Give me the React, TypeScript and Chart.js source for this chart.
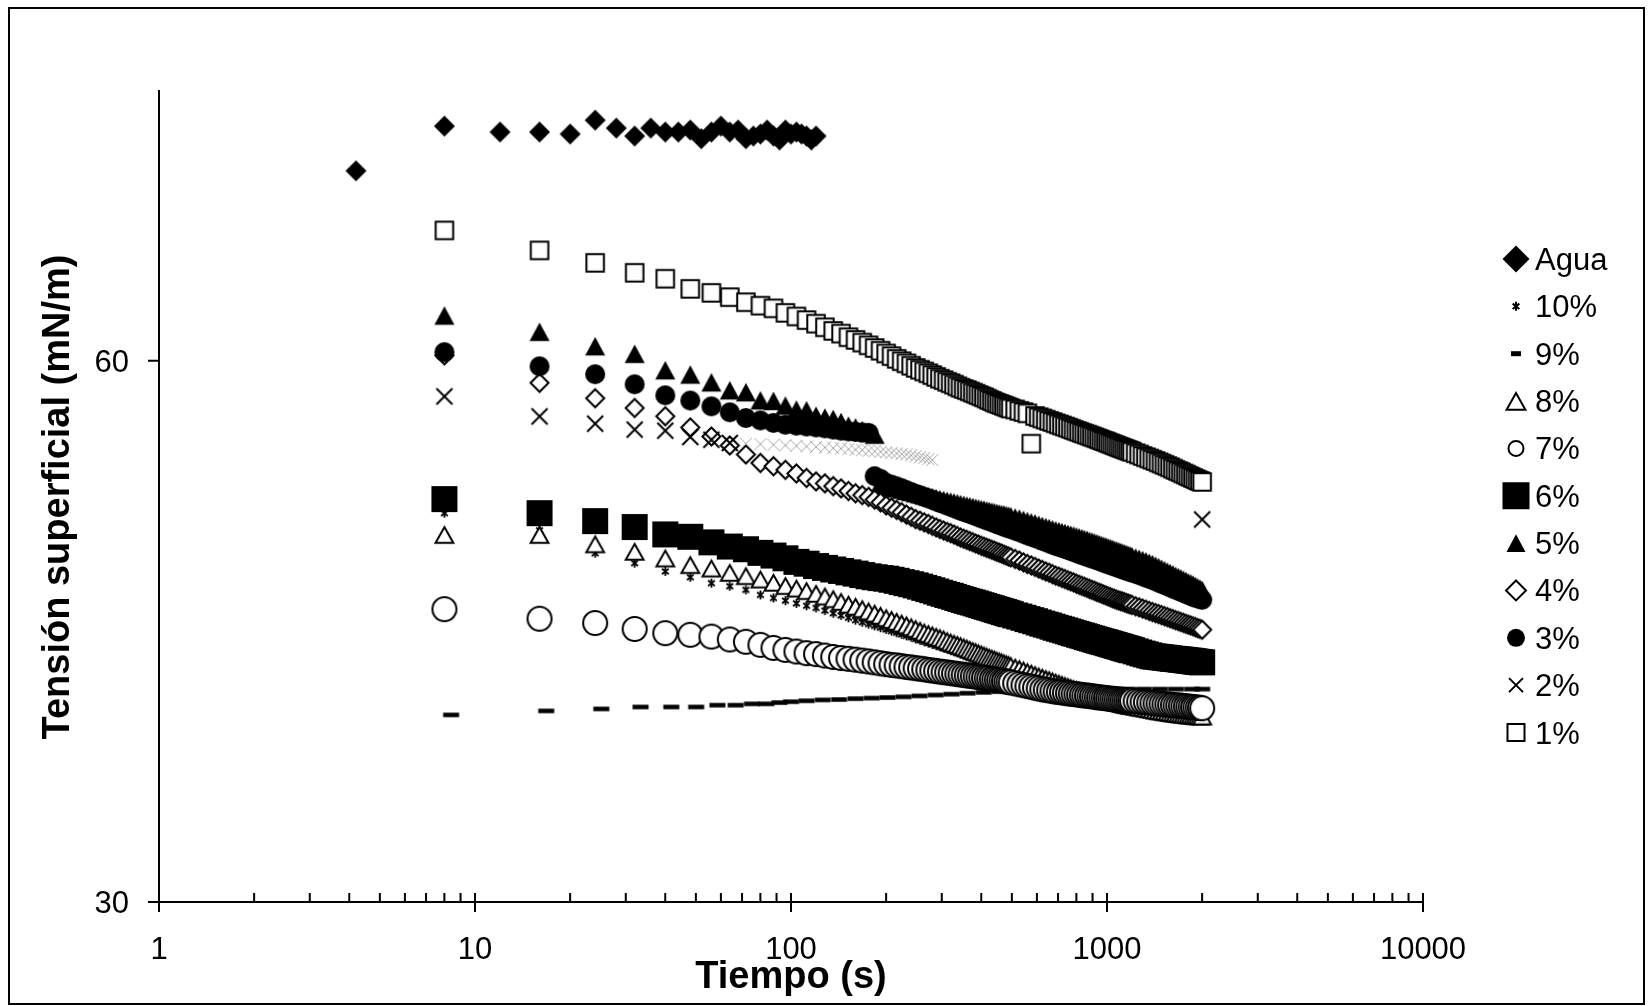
import React, { useEffect, useRef } from "react";
import { Chart, registerables } from "chart.js";

Chart.register(...registerables);

// ---------- DATA ----------
const tiempoAgua = [4.2, 8, 12, 16, 20, 24, 28, 32, 36, 40, 44, 48, 52, 56, 60, 64, 68, 72, 76, 80, 84, 88, 92, 96, 100, 104, 108, 112, 116, 120];
const agua = [70.52, 73.0, 72.67, 72.67, 72.56, 73.33, 72.89, 72.45, 72.89, 72.67, 72.67, 72.78, 72.3, 72.67, 73.0, 72.67, 72.78, 72.3, 72.45, 72.56, 72.78, 72.45, 72.23, 72.78, 72.56, 72.67, 72.56, 72.45, 72.23, 72.45];

const tiempo = [
  8, 16, 24, 32, 40, 48, 56, 64, 72, 80,
  88, 96, 104, 112, 120, 128, 136, 144, 152, 160,
  168, 176, 184, 192, 200, 208, 216, 224, 232, 240,
  248, 256, 264, 272, 280, 288, 296, 304, 312, 320,
  328, 336, 344, 352, 360, 368, 376, 384, 392, 400,
  408, 416, 424, 432, 440, 448, 456, 464, 472, 480,
  488, 496,
  512, 528, 544, 560, 576, 592, 608, 624, 640, 656,
  672, 688, 704, 720, 736, 752, 768, 784, 800, 816,
  832, 848, 864, 880, 896, 912, 928, 944, 960, 976,
  992, 1008, 1024, 1040, 1056, 1072, 1088, 1104, 1120, 1136,
  1152, 1168, 1184, 1200,
  1232, 1264, 1296, 1328, 1360, 1392, 1424, 1456, 1488, 1520,
  1552, 1584, 1616, 1648, 1680, 1712, 1744, 1776, 1808, 1840,
  1872, 1904, 1936, 1968, 2000];

const tiempo2 = [8, 16, 24, 32, 40, 48, 56, 64, 72, 80,
  88, 96, 104, 112, 120, 128, 136, 144, 152, 160,
  168, 176, 184, 192, 200, 208, 216, 224, 232, 240,
  248, 256, 264, 272, 280, 2000];

const tiempo9 = [8.4, 16.8, 25.1, 33.4, 41.8, 50.1, 58.5, 66.8, 75.2, 83.5,
  91.9, 100, 112, 126, 142, 160, 180, 202, 227, 255,
  287, 322, 362, 407, 457, 514, 578, 650, 730, 820,
  922, 1036, 1165, 1309, 1471, 1653, 1858, 2000];

const p10 = [51.55, 50.6, 49.33, 48.78, 48.32, 48.0, 47.67, 47.5, 47.3, 47.02,
  46.85, 46.7, 46.55, 46.42, 46.3, 46.15, 46.0, 45.88, 45.75, 45.62,
  45.5, 45.4, 45.3, 45.2, 45.1,
  45.01, 44.92, 44.83, 44.75, 44.67, 44.58, 44.5, 44.42, 44.35, 44.28,
  44.21, 44.15, 44.08, 44.02, 43.95, 43.9, 43.84, 43.78, 43.72, 43.66,
  43.6, 43.55, 43.5, 43.45, 43.4, 43.35, 43.3, 43.25, 43.2, 43.15,
  43.11, 43.07, 43.03, 42.98, 42.94, 42.9, 42.86,
  42.78, 42.7, 42.62, 42.55, 42.48, 42.41, 42.34, 42.27, 42.2, 42.14,
  42.08, 42.02, 41.96, 41.9, 41.84, 41.79, 41.74, 41.69, 41.64, 41.59,
  41.54, 41.5, 41.45, 41.41, 41.37, 41.33, 41.29, 41.25, 41.21, 41.18,
  41.14, 41.11, 41.07, 41.04, 41.01, 40.98, 40.95, 40.92, 40.89, 40.86,
  40.83, 40.81, 40.78, 40.76,
  40.72, 40.67, 40.63, 40.59, 40.55, 40.51, 40.47, 40.43, 40.4, 40.36,
  40.33, 40.3, 40.27, 40.24, 40.21, 40.19, 40.17, 40.15, 40.13, 40.11,
  40.09, 40.08, 40.07, 40.06, 40.05];

const p9 = [40.37, 40.59, 40.7, 40.81, 40.81, 40.81, 40.91, 40.91, 40.98, 40.98,
  41.05, 41.1, 41.15, 41.2, 41.22, 41.27, 41.3, 41.33, 41.37, 41.42,
  41.47, 41.52, 41.57, 41.62, 41.66, 41.7, 41.72, 41.74, 41.76, 41.77,
  41.78, 41.79, 41.8, 41.8, 41.8, 41.8, 41.8, 41.8];

const p8 = [50.36, 50.36, 49.84, 49.43, 49.06, 48.69, 48.5, 48.26, 48.08, 47.89,
  47.71, 47.53, 47.39, 47.25, 47.1, 46.95, 46.8, 46.65, 46.5, 46.38,
  46.25, 46.12, 46.0, 45.88, 45.75,
  45.65, 45.55, 45.45, 45.35, 45.25, 45.15, 45.05, 44.95, 44.87, 44.8,
  44.72, 44.65, 44.57, 44.48, 44.4, 44.33, 44.27, 44.2, 44.13, 44.07,
  44.0, 43.93, 43.87, 43.8, 43.74, 43.68, 43.62, 43.56, 43.51, 43.45,
  43.4, 43.35, 43.3, 43.25, 43.2, 43.15, 43.1,
  43.01, 42.93, 42.85, 42.76, 42.68, 42.6, 42.52, 42.45, 42.38, 42.32,
  42.25, 42.18, 42.12, 42.06, 42.0, 41.94, 41.88, 41.82, 41.77, 41.72,
  41.67, 41.62, 41.57, 41.52, 41.48, 41.44, 41.39, 41.35, 41.32, 41.28,
  41.25, 41.21, 41.18, 41.15, 41.12, 41.09, 41.06, 41.03, 41.0, 40.97,
  40.95, 40.93, 40.9, 40.88,
  40.84, 40.8, 40.77, 40.74, 40.7, 40.67, 40.63, 40.6, 40.58, 40.55,
  40.53, 40.5, 40.48, 40.46, 40.44, 40.42, 40.4, 40.39, 40.37, 40.36,
  40.34, 40.33, 40.32, 40.31, 40.3];

const p7 = [46.23, 45.7, 45.46, 45.13, 44.9, 44.81, 44.71, 44.55, 44.42, 44.25,
  44.08, 43.97, 43.88, 43.79, 43.74, 43.66, 43.58, 43.52, 43.48, 43.43,
  43.38, 43.33, 43.28, 43.23, 43.18,
  43.14, 43.11, 43.07, 43.03, 43.0, 42.96, 42.93, 42.9, 42.86, 42.83,
  42.8, 42.77, 42.74, 42.72, 42.69, 42.66, 42.64, 42.61, 42.59, 42.56,
  42.54, 42.52, 42.5, 42.47, 42.45, 42.43, 42.41, 42.39, 42.36, 42.34,
  42.32, 42.3, 42.27, 42.25, 42.22, 42.2, 42.17,
  42.12, 42.07, 42.02, 41.97, 41.93, 41.88, 41.84, 41.79, 41.76, 41.73,
  41.69, 41.66, 41.64, 41.62, 41.59, 41.57, 41.55, 41.53, 41.51, 41.49,
  41.47, 41.45, 41.44, 41.42, 41.4, 41.38, 41.36, 41.34, 41.33, 41.31,
  41.3, 41.28, 41.27, 41.26, 41.24, 41.23, 41.22, 41.21, 41.2, 41.19,
  41.18, 41.17, 41.16, 41.15,
  41.13, 41.11, 41.09, 41.07, 41.05, 41.03, 41.01, 41.0, 40.98, 40.96,
  40.95, 40.93, 40.92, 40.9, 40.89, 40.88, 40.86, 40.85, 40.83, 40.82,
  40.8, 40.79, 40.77, 40.76, 40.74];

const p6 = [52.33, 51.55, 51.11, 50.78, 50.37, 50.24, 49.93, 49.7, 49.55, 49.35,
  49.2, 49.05, 48.85, 48.75, 48.62, 48.52, 48.43, 48.35, 48.27, 48.2,
  48.12, 48.05, 48.0, 47.95, 47.92,
  47.86, 47.8, 47.73, 47.67, 47.61, 47.55, 47.48, 47.41, 47.34, 47.28,
  47.21, 47.14, 47.08, 47.02, 46.97, 46.91, 46.85, 46.79, 46.74, 46.69,
  46.64, 46.6, 46.55, 46.5, 46.45, 46.41, 46.36, 46.32, 46.28, 46.23,
  46.19, 46.15, 46.11, 46.07, 46.03, 45.99, 45.95,
  45.88, 45.82, 45.75, 45.68, 45.62, 45.56, 45.49, 45.43, 45.37, 45.32,
  45.26, 45.2, 45.15, 45.1, 45.05, 45.0, 44.95, 44.9, 44.86, 44.81,
  44.77, 44.73, 44.68, 44.64, 44.6, 44.56, 44.52, 44.48, 44.45, 44.41,
  44.38, 44.34, 44.31, 44.27, 44.24, 44.2, 44.17, 44.14, 44.1, 44.07,
  44.04, 44.01, 43.98, 43.95,
  43.89, 43.83, 43.77, 43.72, 43.67, 43.62, 43.6, 43.58, 43.56, 43.54,
  43.52, 43.5, 43.48, 43.47, 43.45, 43.43, 43.42, 43.4, 43.38, 43.37,
  43.35, 43.33, 43.31, 43.3, 43.28];

const p5 = [62.5, 61.6, 60.8, 60.38, 59.47, 59.23, 58.8, 58.36, 58.25, 57.8,
  57.77, 57.51, 57.29, 57.25, 56.95, 56.85, 56.77, 56.6, 56.4, 56.3,
  56.15, 56.0, 55.9, 53.2, 53.05,
  52.98, 52.92, 52.85, 52.78, 52.72, 52.65, 52.6, 52.54, 52.49, 52.43,
  52.38, 52.32, 52.28, 52.23, 52.19, 52.14, 52.1, 52.05, 52.01, 51.97,
  51.93, 51.89, 51.85, 51.81, 51.77, 51.74, 51.7, 51.67, 51.63, 51.6,
  51.56, 51.53, 51.5, 51.47, 51.44, 51.41, 51.38,
  51.31, 51.25, 51.18, 51.11, 51.04, 50.98, 50.91, 50.84, 50.78, 50.72,
  50.66, 50.6, 50.55, 50.5, 50.45, 50.4, 50.35, 50.31, 50.26, 50.21,
  50.16, 50.12, 50.07, 50.02, 49.97, 49.93, 49.88, 49.83, 49.79, 49.74,
  49.7, 49.65, 49.61, 49.57, 49.52, 49.48, 49.44, 49.4, 49.36, 49.32,
  49.28, 49.24, 49.2, 49.16,
  49.09, 49.02, 48.95, 48.88, 48.8, 48.73, 48.64, 48.56, 48.47, 48.39,
  48.31, 48.23, 48.16, 48.08, 48.01, 47.94, 47.86, 47.79, 47.72, 47.66,
  47.59, 47.52, 47.44, 47.37, 47.3];

const p4 = [60.3, 58.77, 57.92, 57.38, 56.92, 56.3, 55.8, 55.3, 54.8, 54.33,
  54.15, 53.95, 53.75, 53.5, 53.31, 53.2, 53.05, 52.92, 52.78, 52.65,
  52.55, 52.45, 52.3, 52.15, 51.98,
  51.85, 51.73, 51.6, 51.47, 51.35, 51.22, 51.13, 51.04, 50.95, 50.85,
  50.76, 50.67, 50.59, 50.51, 50.44, 50.36, 50.28, 50.2, 50.13, 50.07,
  50.0, 49.94, 49.87, 49.81, 49.74, 49.69, 49.63, 49.58, 49.52, 49.47,
  49.41, 49.36, 49.31, 49.25, 49.2, 49.15, 49.1,
  49.01, 48.92, 48.82, 48.73, 48.65, 48.57, 48.48, 48.4, 48.32, 48.25,
  48.17, 48.09, 48.03, 47.96, 47.9, 47.83, 47.77, 47.71, 47.64, 47.58,
  47.52, 47.47, 47.41, 47.35, 47.3, 47.25, 47.19, 47.14, 47.09, 47.04,
  46.99, 46.94, 46.89, 46.84, 46.8, 46.75, 46.72, 46.68, 46.65, 46.61,
  46.57, 46.53, 46.5, 46.46,
  46.39, 46.33, 46.26, 46.2, 46.13, 46.07, 46.01, 45.96, 45.9, 45.84,
  45.79, 45.73, 45.68, 45.62, 45.57, 45.52, 45.47, 45.42, 45.37, 45.33,
  45.28, 45.23, 45.18, 45.14, 45.09];

const p3 = [60.47, 59.69, 59.25, 58.69, 58.08, 57.79, 57.47, 57.14, 56.82, 56.69,
  56.55, 56.45, 56.4, 56.35, 56.3, 56.25, 56.18, 56.12, 56.08, 56.05,
  56.02, 56.0, 53.6, 53.45, 53.23,
  53.13, 53.03, 52.93, 52.82, 52.72, 52.62, 52.54, 52.45, 52.37, 52.29,
  52.2, 52.12, 52.05, 51.98, 51.91, 51.83, 51.76, 51.69, 51.63, 51.57,
  51.51, 51.45, 51.39, 51.33, 51.27, 51.22, 51.16, 51.11, 51.06, 51.0,
  50.95, 50.9, 50.86, 50.81, 50.76, 50.72, 50.67,
  50.58, 50.5, 50.41, 50.32, 50.25, 50.17, 50.1, 50.02, 49.95, 49.88,
  49.81, 49.74, 49.68, 49.63, 49.57, 49.51, 49.45, 49.4, 49.34, 49.28,
  49.23, 49.19, 49.14, 49.09, 49.04, 49.0, 48.95, 48.9, 48.86, 48.81,
  48.77, 48.72, 48.68, 48.64, 48.6, 48.56, 48.52, 48.48, 48.44, 48.4,
  48.37, 48.33, 48.3, 48.26,
  48.19, 48.12, 48.05, 47.98, 47.92, 47.85, 47.78, 47.71, 47.64, 47.57,
  47.51, 47.44, 47.38, 47.32, 47.26, 47.2, 47.14, 47.08, 47.02, 46.97,
  46.91, 46.87, 46.83, 46.79, 46.75];

const p2 = [58.02, 56.91, 56.51, 56.18, 56.12, 55.77, 55.62, 55.44, 55.4, 55.37,
  55.34, 55.31, 55.28, 55.25, 55.22, 55.19, 55.16, 55.13, 55.1, 55.07,
  55.04, 55.01, 54.98, 54.95, 54.92, 54.89, 54.86, 54.83, 54.8, 54.75,
  54.7, 54.65, 54.6, 54.55, 54.5, 51.2];

const p1 = [67.22, 66.11, 65.42, 64.87, 64.54, 63.98, 63.76, 63.52, 63.24, 63.05,
  62.9, 62.65, 62.45, 62.25, 62.05, 61.85, 61.65, 61.5, 61.3, 61.15,
  61.0, 60.85, 60.7, 60.55, 60.4,
  60.25, 60.1, 59.97, 59.85, 59.72, 59.6, 59.5, 59.4, 59.3, 59.2,
  59.1, 59.0, 58.92, 58.83, 58.75, 58.67, 58.58, 58.5, 58.43, 58.37,
  58.3, 58.23, 58.17, 58.1, 58.03, 57.97, 57.9, 57.83, 57.77, 57.7,
  57.65, 57.6, 57.55, 57.5, 57.45, 57.4, 57.35,
  57.3, 57.22, 57.15, 57.08, 55.4, 56.94, 56.87, 56.8, 56.73, 56.66,
  56.6, 56.53, 56.47, 56.41, 56.35, 56.29, 56.23, 56.17, 56.11, 56.06,
  56.0, 55.95, 55.9, 55.85, 55.8, 55.75, 55.7, 55.65, 55.6, 55.55,
  55.51, 55.46, 55.41, 55.37, 55.32, 55.28, 55.23, 55.19, 55.15, 55.11,
  55.07, 55.03, 54.99, 54.95,
  54.87, 54.8, 54.72, 54.65, 54.58, 54.51, 54.44, 54.37, 54.3, 54.23,
  54.16, 54.09, 54.02, 53.95, 53.88, 53.82, 53.75, 53.69, 53.62, 53.56,
  53.5, 53.44, 53.38, 53.33, 53.28];

const etiquetas = ["Agua", "10%", "9%", "8%", "7%", "6%", "5%", "4%", "3%", "2%", "1%"];
const yTicks = [30, 60];
const xDecades = [1, 10, 100, 1000, 10000];
const xTitle = "Tiempo (s)";
const yTitle = "Tensión superficial (mN/m)";

// ---------- MARKERS ----------
function drawMarker(g: CanvasRenderingContext2D, kind: string, cx: number, cy: number, s: number, lw: number, color = "#000") {
  g.save();
  g.strokeStyle = color;
  g.fillStyle = color;
  g.lineWidth = lw;
  g.lineJoin = "miter";
  g.lineCap = "butt";
  const h = s / 2;
  if (kind === "diamondF") {
    g.beginPath();
    g.moveTo(cx, cy - h); g.lineTo(cx + h, cy); g.lineTo(cx, cy + h); g.lineTo(cx - h, cy);
    g.closePath(); g.fill();
  } else if (kind === "diamondO") {
    const r = h - lw * 0.75;
    g.beginPath();
    g.moveTo(cx, cy - r); g.lineTo(cx + r, cy); g.lineTo(cx, cy + r); g.lineTo(cx - r, cy);
    g.closePath(); g.fillStyle = "#fff"; g.fill(); g.stroke();
  } else if (kind === "squareF") {
    g.fillRect(cx - h, cy - h, s, s);
  } else if (kind === "squareO") {
    const r = h - lw / 2;
    g.fillStyle = "#fff";
    g.fillRect(cx - r, cy - r, 2 * r, 2 * r);
    g.strokeRect(cx - r, cy - r, 2 * r, 2 * r);
  } else if (kind === "circleF") {
    g.beginPath(); g.arc(cx, cy, h, 0, Math.PI * 2); g.fill();
  } else if (kind === "circleO") {
    g.beginPath(); g.arc(cx, cy, h - lw / 2, 0, Math.PI * 2);
    g.fillStyle = "#fff"; g.fill(); g.stroke();
  } else if (kind === "triangleF") {
    const H = s * 0.93;
    g.beginPath();
    g.moveTo(cx, cy - H / 2); g.lineTo(cx + h, cy + H / 2); g.lineTo(cx - h, cy + H / 2);
    g.closePath(); g.fill();
  } else if (kind === "triangleO") {
    const W = s - lw * 1.6;
    const H = s * 0.93 - lw * 1.6;
    g.beginPath();
    g.moveTo(cx, cy - H / 2 + lw * 0.3); g.lineTo(cx + W / 2, cy + H / 2); g.lineTo(cx - W / 2, cy + H / 2);
    g.closePath(); g.fillStyle = "#fff"; g.fill(); g.stroke();
  } else if (kind === "cross") {
    const r = (s - lw) / 2;
    g.beginPath();
    g.moveTo(cx - r, cy - r); g.lineTo(cx + r, cy + r);
    g.moveTo(cx + r, cy - r); g.lineTo(cx - r, cy + r);
    g.stroke();
  } else if (kind === "asterisk") {
    const r = h;
    g.beginPath();
    g.moveTo(cx, cy - r); g.lineTo(cx, cy + r);
    g.moveTo(cx - r * 0.75, cy - r * 0.6); g.lineTo(cx + r * 0.75, cy + r * 0.6);
    g.moveTo(cx + r * 0.75, cy - r * 0.6); g.lineTo(cx - r * 0.75, cy + r * 0.6);
    g.stroke();
  } else if (kind === "dash") {
    g.fillRect(cx - h, cy - lw / 2, s, lw);
  }
  g.restore();
}

function makeImage(kind: string, s: number, lw: number, color = "#000") {
  const c = document.createElement("canvas");
  const pad = 3;
  const w = Math.ceil(s + lw + pad * 2);
  const hh = kind === "dash" ? Math.ceil(lw + pad * 2) : w;
  c.width = w;
  c.height = hh;
  const g = c.getContext("2d") as CanvasRenderingContext2D;
  drawMarker(g, kind, w / 2, hh / 2, s, lw, color);
  return c;
}

const chartMarkers: [string, number, number][] = [
  ["diamondF", 21, 0],
  ["asterisk", 9, 1.8],
  ["dash", 16, 4.5],
  ["triangleO", 21, 2],
  ["circleO", 26, 2],
  ["squareF", 26, 0],
  ["triangleF", 20, 0],
  ["diamondO", 21, 2],
  ["circleF", 20, 0],
  ["cross", 18, 2],
  ["squareO", 19.5, 2],
];
const legendMarkers: [string, number, number][] = [
  ["diamondF", 27, 0],
  ["asterisk", 9, 2],
  ["dash", 10, 5],
  ["triangleO", 22, 2],
  ["circleO", 17, 2],
  ["squareF", 27, 0],
  ["triangleF", 19, 0],
  ["diamondO", 23, 2],
  ["circleF", 18, 0],
  ["cross", 16, 2],
  ["squareO", 19, 2],
];

const FONT = '"Liberation Sans", Arial, Helvetica, sans-serif';

const framePlugin = {
  id: "frame",
  beforeDraw(chart: any) {
    const ctx = chart.ctx as CanvasRenderingContext2D;
    ctx.save();
    ctx.fillStyle = "#fff";
    ctx.fillRect(0, 0, chart.width, chart.height);
    ctx.strokeStyle = "#000";
    ctx.lineWidth = 2;
    ctx.strokeRect(9, 8, 1635, 996);
    ctx.restore();
  },
  beforeDatasetsDraw(chart: any) {
    const ctx = chart.ctx as CanvasRenderingContext2D;
    const xs = chart.scales.x;
    const ys = chart.scales.y;
    const x0 = xs.getPixelForValue(1);
    const x1 = xs.getPixelForValue(10000);
    const y0 = ys.getPixelForValue(30);
    const yTop = ys.getPixelForValue(75);
    ctx.save();
    ctx.strokeStyle = "#000";
    ctx.fillStyle = "#000";
    ctx.lineWidth = 2;
    ctx.beginPath();
    ctx.moveTo(x0, yTop); ctx.lineTo(x0, y0);
    ctx.moveTo(x0 - 11, y0); ctx.lineTo(x1, y0);
    for (const v of yTicks) {
      const py = ys.getPixelForValue(v);
      ctx.moveTo(x0 - 11, py); ctx.lineTo(x0, py);
    }
    for (const d of xDecades) {
      const px = xs.getPixelForValue(d);
      ctx.moveTo(px, y0 - 9); ctx.lineTo(px, y0 + 10);
      if (d < 10000) {
        for (let m = 2; m <= 9; m++) {
          const pm = xs.getPixelForValue(m * d);
          ctx.moveTo(pm, y0 - 9); ctx.lineTo(pm, y0);
        }
      }
    }
    ctx.stroke();
    ctx.font = `31px ${FONT}`;
    ctx.textAlign = "right";
    ctx.textBaseline = "alphabetic";
    for (const v of yTicks) {
      const py = ys.getPixelForValue(v);
      ctx.fillText(String(v), x0 - 30, py + 11);
    }
    ctx.textAlign = "center";
    for (const d of xDecades) {
      ctx.fillText(String(d), xs.getPixelForValue(d), y0 + 57);
    }
    ctx.font = `bold 38px ${FONT}`;
    ctx.fillText(xTitle, (x0 + x1) / 2, 988);
    ctx.save();
    ctx.translate(69, 497);
    ctx.rotate(-Math.PI / 2);
    ctx.fillText(yTitle, 0, 0);
    ctx.restore();
    ctx.restore();
  },
  afterDraw(chart: any) {
    const ctx = chart.ctx as CanvasRenderingContext2D;
    ctx.save();
    ctx.font = `31px ${FONT}`;
    ctx.textAlign = "left";
    ctx.textBaseline = "alphabetic";
    etiquetas.forEach((lab, i) => {
      const cy = 259 + 47.35 * i;
      const [k, s, lw] = legendMarkers[i];
      drawMarker(ctx, k, 1516, cy, s, lw);
      ctx.fillStyle = "#000";
      ctx.fillText(lab, 1535, cy + 11);
    });
    ctx.restore();
  },
};

export default function App() {
  const ref = useRef<HTMLCanvasElement>(null);
  useEffect(() => {
    const canvas = ref.current as HTMLCanvasElement;
    const imgs = chartMarkers.map(([k, s, lw]) => makeImage(k, s, lw));
    const faint = makeImage("cross", 13, 1, "#a8a8a8");
    const mk = (t: number[], v: (number | null)[]) =>
      t.map((x, i) => ({ x, y: v[i] })).filter((p) => p.y !== null && p.y !== undefined);
    const series: [number[], (number | null)[]][] = [
      [tiempoAgua, agua],
      [tiempo, p10],
      [tiempo9, p9],
      [tiempo, p8],
      [tiempo, p7],
      [tiempo, p6],
      [tiempo, p5],
      [tiempo, p4],
      [tiempo, p3],
      [tiempo2, p2],
      [tiempo, p1],
    ];
    const datasets = series.map(([t, v], i) => ({
      label: etiquetas[i],
      data: mk(t, v),
      pointStyle:
        i === 9
          ? (c: any) => (c.raw && c.raw.x > 66 && c.raw.x < 1900 ? faint : imgs[i])
          : imgs[i],
      pointRadius: 10,
      pointHoverRadius: 10,
      backgroundColor: "#000",
      borderColor: "#000",
      showLine: false,
      clip: false as any,
      order: 10 - i,
    }));
    const chart = new Chart(canvas, {
      type: "scatter",
      data: { datasets: datasets as any },
      options: {
        animation: false,
        responsive: false,
        devicePixelRatio: 1,
        events: [],
        layout: { padding: { left: 159, top: 90, right: 227, bottom: 104 } },
        plugins: { legend: { display: false }, tooltip: { enabled: false } },
        scales: {
          x: { type: "logarithmic", min: 1, max: 10000, display: false },
          y: { type: "linear", min: 30, max: 75, display: false },
        },
      },
      plugins: [framePlugin as any],
    });
    return () => chart.destroy();
  }, []);
  return (
    <div style={{ position: "fixed", left: 0, top: 0, width: 1650, height: 1006, background: "#fff" }}>
      <canvas ref={ref} width={1650} height={1006} style={{ display: "block" }} />
    </div>
  );
}
